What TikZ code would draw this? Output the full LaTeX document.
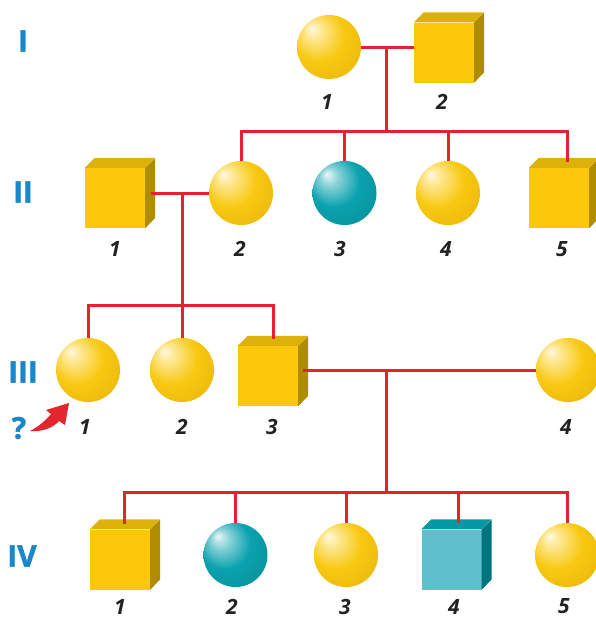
\documentclass[tikz,border=0pt]{standalone}
\usepackage{fontspec}
\newfontfamily\labfont{Open Sans}
\newfontfamily\genfont{Open Sans}[BoldFeatures={FakeBold=1.5}]
\definecolor{relred}{HTML}{E52330}
\definecolor{arrowred}{HTML}{E3262D}
\definecolor{genblue}{HTML}{1A87CB}
\definecolor{numgray}{HTML}{222222}
\definecolor{goldfront}{HTML}{FDC80C}
\definecolor{goldtop}{HTML}{DDB109}
\definecolor{goldside}{HTML}{B08D00}
\definecolor{tealfront}{HTML}{5FBFCB}
\definecolor{tealtop}{HTML}{0099A5}
\definecolor{tealside}{HTML}{00747C}
\definecolor{goldhi}{HTML}{FFF9E0}
\definecolor{goldA}{HTML}{FDE68E}
\definecolor{goldB}{HTML}{F8C912}
\definecolor{goldC}{HTML}{EDB90A}
\definecolor{goldD}{HTML}{D2A20B}
\definecolor{tealhi}{HTML}{EAF7F8}
\definecolor{tealA}{HTML}{8DD3D9}
\definecolor{tealB}{HTML}{0AA2AE}
\definecolor{tealC}{HTML}{06949F}
\definecolor{tealD}{HTML}{077880}
\pgfdeclareradialshading{goldsph}{\pgfpoint{-14bp}{15bp}}{color(0bp)=(goldhi); color(7bp)=(goldA); color(20bp)=(goldB); color(34bp)=(goldC); color(50bp)=(goldD)}
\pgfdeclareradialshading{tealsph}{\pgfpoint{-14bp}{15bp}}{color(0bp)=(tealhi); color(7bp)=(tealA); color(20bp)=(tealB); color(34bp)=(tealC); color(50bp)=(tealD)}
\newcommand\cubesides[3]{%
  \fill[#2] (#1.north west) -- ++(10pt,10pt) -- ++(60pt,0pt) -- (#1.north east) -- cycle;
  \fill[#3] (#1.north east) -- ++(10pt,10pt) -- ++(0pt,-60pt) -- (#1.south east) -- cycle;}
\begin{document}
\begin{tikzpicture}[x=1pt,y=-1pt,
  rel/.style={draw=relred, line width=3pt},
  gsphere/.style={circle, minimum size=64pt, inner sep=0pt, shading=goldsph},
  tsphere/.style={circle, minimum size=64pt, inner sep=0pt, shading=tealsph},
  cubefront/.style={rectangle, minimum width=60pt, minimum height=60pt, inner sep=0pt, fill=#1},
  num/.style={inner sep=0pt, font=\labfont\bfseries\itshape\fontsize{21}{21}\selectfont, text=numgray},
  gen/.style={inner sep=0pt, font=\genfont\bfseries\fontsize{30}{30}\selectfont, text=genblue}]
\useasboundingbox[fill=white] (0,0) rectangle (595,619);

% generation labels
\node[gen] (gI) at (23,41) {I};
\node[gen] (gII) at (23,192) {II};
\node[gen] (gIII) at (23,372) {III};
\node[gen] (gIV) at (22,556) {IV};
\node[gen] (q) at (19,428) {?};

% Generation I
\node[gsphere] (I1) at (329,47) {};
\node[cubefront=goldfront] (I2) at (444,52.5) {};
\cubesides{I2}{goldtop}{goldside}

% Generation II
\node[cubefront=goldfront] (II1) at (115,198) {};
\cubesides{II1}{goldtop}{goldside}
\node[gsphere] (II2) at (241,193) {};
\node[tsphere] (II3) at (344.5,193) {};
\node[gsphere] (II4) at (448,193) {};
\node[cubefront=goldfront] (II5) at (559,198) {};
\cubesides{II5}{goldtop}{goldside}

% Generation III
\node[gsphere] (III1) at (88,370) {};
\node[gsphere] (III2) at (182,370) {};
\node[cubefront=goldfront] (III3) at (268,376) {};
\cubesides{III3}{goldtop}{goldside}
\node[gsphere] (III4) at (568,370) {};

% Generation IV
\node[cubefront=goldfront] (IV1) at (120,559.5) {};
\cubesides{IV1}{goldtop}{goldside}
\node[tsphere] (IV2) at (235.5,555) {};
\node[gsphere] (IV3) at (346,555) {};
\node[cubefront=tealfront] (IV4) at (451.5,559.5) {};
\cubesides{IV4}{tealtop}{tealside}
\node[gsphere] (IV5) at (567,555) {};

% number labels
\node[num] (lI1) at (327,102) {1};
\node[num] (lI2) at (442,102) {2};
\node[num] (lII1) at (115,249) {1};
\node[num] (lII2) at (240,249) {2};
\node[num] (lII3) at (340,249) {3};
\node[num] (lII4) at (446,249) {4};
\node[num] (lII5) at (562,249) {5};
\node[num] (lIII1) at (85,427) {1};
\node[num] (lIII2) at (182,427) {2};
\node[num] (lIII3) at (272,427) {3};
\node[num] (lIII4) at (566,427) {4};
\node[num] (lIV1) at (120,606.5) {1};
\node[num] (lIV2) at (232,606.5) {2};
\node[num] (lIV3) at (345,606.5) {3};
\node[num] (lIV4) at (454,606.5) {4};
\node[num] (lIV5) at (564,606.5) {5};

% connector end points
\coordinate (mI) at (386,47);
\coordinate (sII) at (386,131);
\coordinate (t25) at (567,162);
\coordinate (eII1) at (151,193);
\coordinate (mII) at (182,193);
\coordinate (sIII) at (182,305);
\coordinate (t33) at (273,339);
\coordinate (eIII3) at (303,370);
\coordinate (mIII) at (386,370);
\coordinate (sIV) at (386,492);
\coordinate (t41) at (124,524);
\coordinate (t44) at (458,523);

% connectors
\draw[rel] (I1.east) -- (I1.east -| I2.west);
\draw[rel] (mI) -- (sII);
\draw[rel] (II2.north) |- (sII -| t25) -- (t25);
\draw[rel] (II3.north) -- (II3.north |- sII);
\draw[rel] (II4.north) -- (II4.north |- sII);
\draw[rel] (eII1) -- (II2.west);
\draw[rel] (mII) -- (sIII);
\draw[rel] (III1.north) |- (sIII -| t33) -- (t33);
\draw[rel] (III2.north) -- (sIII);
\draw[rel] (eIII3) -- (III4.west);
\draw[rel] (mIII) -- (sIV);
\draw[rel] (t41) |- (sIV -| IV5.north) -- (IV5.north);
\draw[rel] (IV2.north) -- (IV2.north |- sIV);
\draw[rel] (IV3.north) -- (IV3.north |- sIV);
\draw[rel] (t44) -- (t44 |- sIV);

% proband arrow
\fill[arrowred] (30,431) .. controls (42,432) and (53,428) .. (59,421)
  -- (65,425) -- (69,403) -- (46,410) -- (51,414)
  .. controls (45,421) and (38,427) .. cycle;
\end{tikzpicture}
\end{document}
